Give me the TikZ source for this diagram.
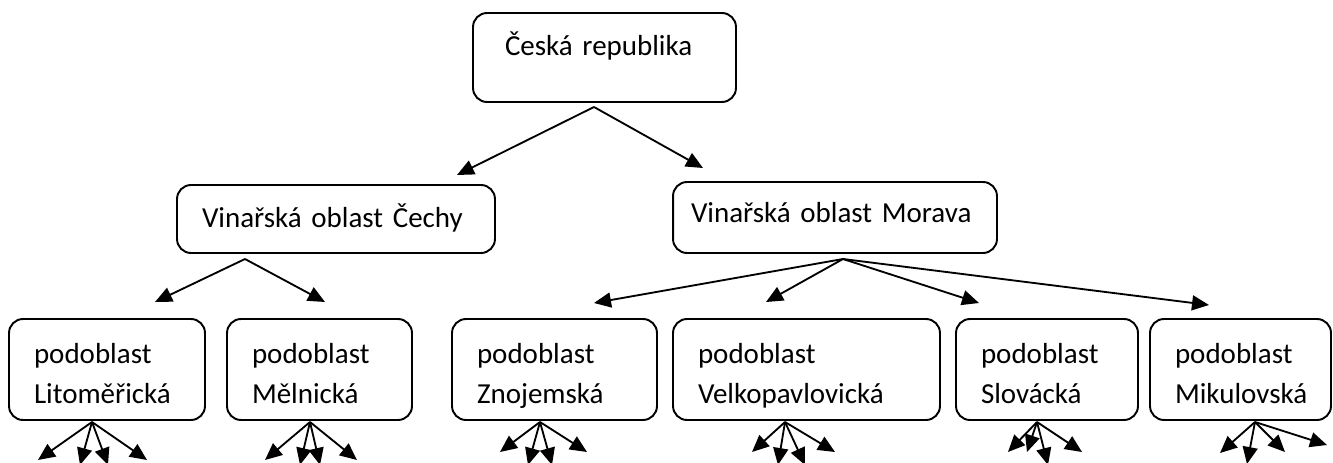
\documentclass[tikz,border=0pt]{standalone}
\usepackage{fontspec}
\setmainfont{Carlito}
\usetikzlibrary{arrows.meta}

\tikzset{
  box/.style={draw, line width=1.1pt, rounded corners=0.28cm, align=left,
    inner xsep=0.5cm, inner ysep=0pt, text height=0.46cm,
    font=\fontsize{16.5pt}{22.8pt}\selectfont},
  sub/.style={box, minimum height=2.02cm, text depth=0.72cm},
  arr/.style={line width=1.05pt, -{Triangle[length=0.34cm,width=0.3cm]}},
}

\begin{document}
\begin{tikzpicture}[x=0.02cm, y=-0.02cm]
    \useasboundingbox (0,0) rectangle (1333,463);

    % the country
    \node[box, minimum width=5.26cm, minimum height=1.78cm, text width=3.98cm,
          inner xsep=0.64cm, text depth=0.56cm] (cr) at (604.5,57.5) {Česká republika};

    % the two wine regions
    \node[box, minimum width=6.36cm, minimum height=1.36cm, text width=5.36cm,
          text depth=0.1cm] (cechy) at (336,219) {Vinařská oblast Čechy};
    \node[box, minimum width=6.48cm, minimum height=1.42cm, text width=5.76cm,
          inner xsep=0.36cm, text depth=0.28cm] (morava) at (835,217.5) {Vinařská oblast Morava};

    % the subregions
    \node[sub, minimum width=3.92cm, text width=2.92cm] (lit) at (107,369.5) {podoblast\\Litoměřická};
    \node[sub, minimum width=3.70cm, text width=2.70cm] (mel) at (319.5,369.5) {podoblast\\Mělnická};
    \node[sub, minimum width=4.10cm, text width=3.10cm] (zno) at (554.5,369.5) {podoblast\\Znojemská};
    \node[sub, minimum width=5.34cm, text width=4.34cm] (vel) at (806.5,369.5) {podoblast\\Velkopavlovická};
    \node[sub, minimum width=3.64cm, text width=2.64cm] (slo) at (1047,369.5) {podoblast\\Slovácká};
    \node[sub, minimum width=3.62cm, text width=2.62cm] (mik) at (1240.5,369.5) {podoblast\\Mikulovská};

    % arrow ends
    \coordinate (cr-out) at (594,107);
    \coordinate (cechy-in) at (457,175);
    \coordinate (morava-in) at (703,168);
    \coordinate (cechy-out) at (245,259);
    \coordinate (lit-in) at (155,302);
    \coordinate (mel-in) at (325,302);
    \coordinate (morava-out) at (843,259);
    \coordinate (zno-in) at (594,303);
    \coordinate (vel-in) at (766,302);
    \coordinate (slo-in) at (979,303);
    \coordinate (mik-in) at (1209,305);

    % country -> regions
    \draw[arr] (cr-out) -- (cechy-in);
    \draw[arr] (cr-out) -- (morava-in);

    % regions -> subregions
    \draw[arr] (cechy-out) -- (lit-in);
    \draw[arr] (cechy-out) -- (mel-in);
    \foreach \s in {zno,vel,slo,mik}
        \draw[arr] (morava-out) -- (\s-in);

    % fans below the subregions
    \foreach \s/\ox/\tips in {
        lit/92/{38/460,80/465,108/465,147/460},
        mel/310/{265/460,300/465,320/465,357/460},
        zno/540/{500/452,528/465,552/465,587/452},
        vel/785/{752/452,778/465,805/465,835/452},
        slo/1037/{1008/452,1027/452,1048/465,1082/452},
        mik/1255/{1220/453,1247/464,1285/452,1327/445}} {
        \coordinate (\s-out) at (\ox,422);
        \foreach \tx/\ty [count=\i] in \tips {
            \coordinate (\s-\i) at (\tx,\ty);
            \draw[arr] (\s-out) -- (\s-\i);
        }
    }
\end{tikzpicture}
\end{document}
